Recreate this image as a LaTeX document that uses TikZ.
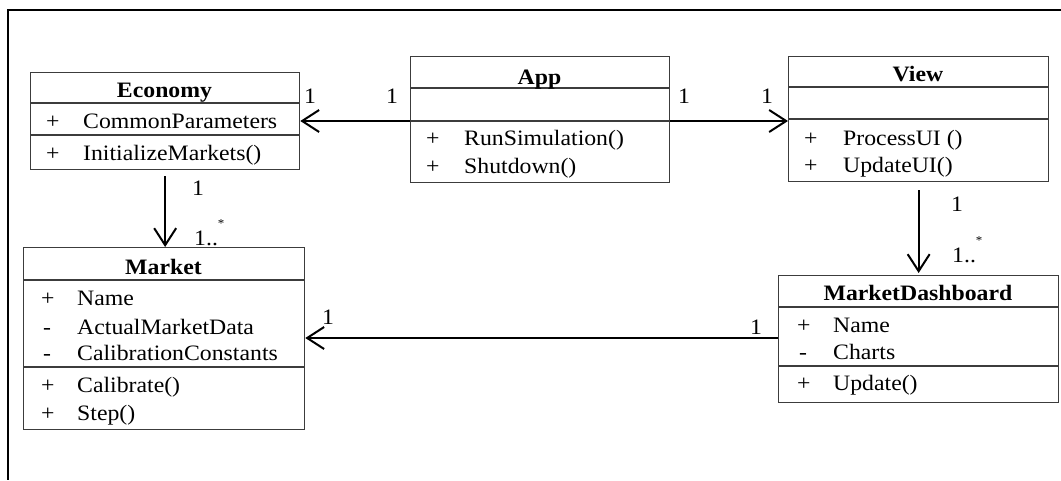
\documentclass[tikz,border=0pt]{standalone}
\usepackage{fontspec}
\setmainfont[FakeStretch=1.08]{Liberation Serif}
\usetikzlibrary{arrows.meta}
\definecolor{boxgray}{RGB}{60,60,60}
\newcommand\umlfont{\fontsize{22}{26}\selectfont}
\newcommand\umlstar{\raisebox{18pt}{\fontsize{12}{12}\selectfont *}}
\begin{document}
\begin{tikzpicture}[x=1pt,y=-1pt,
  box/.style={draw=boxgray,line width=1.3pt,rectangle,inner sep=0pt,anchor=north west},
  sep/.style={draw=boxgray,line width=1.3pt},
  txt/.style={anchor=base west,inner sep=0pt,font=\umlfont},
  ttl/.style={anchor=base,inner sep=0pt,font=\umlfont\bfseries},
  lbl/.style={anchor=base,inner sep=0pt,font=\umlfont},
  assoc/.style={line width=2pt,-{Straight Barb[length=17pt,width=22pt,line width=2pt]}},
  frame/.style={line width=2.2pt}]
\useasboundingbox (0,0) rectangle (1061,480);
\draw[frame] (1061,10) -- (8,10) -- (8,480);

% Economy
\node[box,minimum width=269pt,minimum height=97pt] (eco) at (30,72) {};
\draw[sep] (eco.west |- 0,103) -- (eco.east |- 0,103);
\draw[sep] (eco.west |- 0,135) -- (eco.east |- 0,135);
\node[ttl] (ecoT) at (164.5,97) {Economy};
\node[txt] (ecoV1) at (46,128) {+};
\node[txt] (ecoA1) at (83,128) {CommonParameters};
\node[txt] (ecoV2) at (46,160) {+};
\node[txt] (ecoM1) at (83,160) {InitializeMarkets()};

% App
\node[box,minimum width=259pt,minimum height=126pt] (app) at (410,56) {};
\draw[sep] (app.west |- 0,88) -- (app.east |- 0,88);
\draw[sep] (app.west |- 0,121) -- (app.east |- 0,121);
\node[ttl] (appT) at (539.5,84) {App};
\node[txt] (appV1) at (426,145) {+};
\node[txt] (appM1) at (464,145) {RunSimulation()};
\node[txt] (appV2) at (426,173) {+};
\node[txt] (appM2) at (464,173) {Shutdown()};

% View
\node[box,minimum width=260pt,minimum height=125pt] (view) at (788,56) {};
\draw[sep] (view.west |- 0,87) -- (view.east |- 0,87);
\draw[sep] (view.west |- 0,119) -- (view.east |- 0,119);
\node[ttl] (viewT) at (918,81) {View};
\node[txt] (viewV1) at (804,145) {+};
\node[txt] (viewM1) at (843,145) {ProcessUI ()};
\node[txt] (viewV2) at (804,172) {+};
\node[txt] (viewM2) at (843,172) {UpdateUI()};

% Market
\node[box,minimum width=281pt,minimum height=182pt] (mkt) at (23,247) {};
\draw[sep] (mkt.west |- 0,280) -- (mkt.east |- 0,280);
\draw[sep] (mkt.west |- 0,367) -- (mkt.east |- 0,367);
\node[ttl] (mktT) at (163.5,274) {Market};
\node[txt] (mktV1) at (41,305) {+};
\node[txt] (mktA1) at (77,305) {Name};
\node[txt] (mktV2) at (43,334) {-};
\node[txt] (mktA2) at (77,334) {ActualMarketData};
\node[txt] (mktV3) at (43,360) {-};
\node[txt] (mktA3) at (77,360) {CalibrationConstants};
\node[txt] (mktV4) at (41,392) {+};
\node[txt] (mktM1) at (77,392) {Calibrate()};
\node[txt] (mktV5) at (41,420) {+};
\node[txt] (mktM2) at (77,420) {Step()};

% MarketDashboard
\node[box,minimum width=280pt,minimum height=127pt] (md) at (778,275) {};
\draw[sep] (md.west |- 0,307) -- (md.east |- 0,307);
\draw[sep] (md.west |- 0,366) -- (md.east |- 0,366);
\node[ttl] (mdT) at (918,300) {MarketDashboard};
\node[txt] (mdV1) at (797,332) {+};
\node[txt] (mdA1) at (833,332) {Name};
\node[txt] (mdV2) at (799,359) {-};
\node[txt] (mdA2) at (833,359) {Charts};
\node[txt] (mdV3) at (797,390) {+};
\node[txt] (mdM1) at (833,390) {Update()};

% connectors
\draw[assoc] (app.west |- 0,121) -- (eco.east |- 0,121);
\draw[assoc] (app.east |- 0,121) -- (view.west |- 0,121);
\draw[assoc,shorten <=6pt] (eco.south) -- (eco.south |- mkt.north);
\draw[assoc,shorten <=8pt,shorten >=2pt] (view.south) -- (view.south |- md.north);
\draw[assoc] (md.west |- 0,338) -- (mkt.east |- 0,338);

% multiplicities
\node[lbl] (m1) at (310,103) {1};
\node[lbl] (m2) at (392,103) {1};
\node[lbl] (m3) at (684,103) {1};
\node[lbl] (m4) at (767,103) {1};
\node[lbl] (m5) at (198,195) {1};
\node[txt] (m6) at (194,245) {1..\umlstar};
\node[lbl] (m7) at (957,211) {1};
\node[txt] (m8) at (952,262) {1..\umlstar};
\node[lbl] (m9) at (328,324) {1};
\node[lbl] (m10) at (756,334) {1};
\end{tikzpicture}
\end{document}
